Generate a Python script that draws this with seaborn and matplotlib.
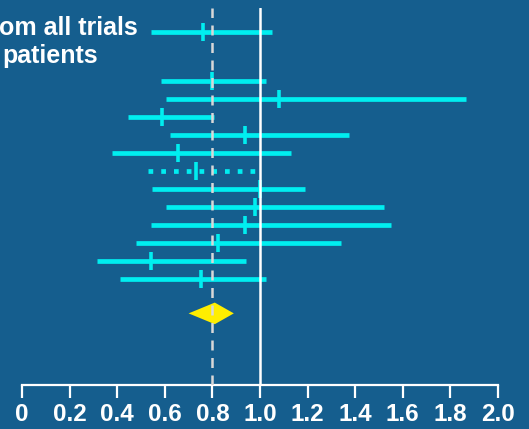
import numpy as np
import pandas as pd
import matplotlib
matplotlib.use("Agg")
import matplotlib.pyplot as plt
import seaborn as sns

# --- datos (razon de riesgo e IC95%) ---
studies = ["All trials", "T1", "T2", "T3", "T4", "T5", "T6", "T7",
           "T8", "T9", "T10", "T11", "T12"]
estimate = [0.76, 0.80, 1.08, 0.59, 0.935, 0.655, 0.73, 1.00,
            0.98, 0.935, 0.825, 0.54, 0.75]
ci_low = [0.54, 0.585, 0.605, 0.445, 0.62, 0.38, 0.53, 0.545,
          0.605, 0.54, 0.48, 0.315, 0.41]
ci_high = [1.05, 1.025, 1.865, 0.805, 1.375, 1.13, 0.99, 1.19,
           1.52, 1.55, 1.34, 0.94, 1.025]
dotted = [False, False, False, False, False, False, True, False,
          False, False, False, False, False]
pooled_est, pooled_low, pooled_high = 0.81, 0.70, 0.89

xticks = [0, 0.2, 0.4, 0.6, 0.8, 1.0, 1.2, 1.4, 1.6, 1.8, 2.0]
xticklabels = ["0", "0.2", "0.4", "0.6", "0.8", "1.0", "1.2", "1.4", "1.6", "1.8", "2.0"]

BG = "#155e8e"
CYAN = "#00eef0"
YELLOW = "#ffee00"

# posicion vertical de cada fila (layout)
row_pos = [0] + [2.72 + i for i in range(12)]
pooled_pos = 15.65

df = pd.DataFrame({"study": studies, "estimate": estimate, "low": ci_low,
                   "high": ci_high, "dotted": dotted, "row": row_pos})

sns.set_theme(style="white")
plt.rcParams['font.family'] = ['Liberation Sans', 'DejaVu Sans']

fig = plt.figure(figsize=(5.29, 4.29), dpi=100, facecolor=BG)
ax = fig.add_axes([22 / 529, 44 / 429, 476 / 529, 377 / 429], facecolor=BG)

# --- intervalos de confianza ---
solid = df[~df["dotted"]]
dots = df[df["dotted"]]
ax.hlines(solid["row"], solid["low"], solid["high"], color=CYAN,
          linewidth=3.4, capstyle="butt", zorder=2)
for _, r in dots.iterrows():
    ax.plot([r["low"], r["high"]], [r["row"], r["row"]], color=CYAN,
            linewidth=3.4, linestyle=(0, (1, 1.7)), dash_capstyle="butt", zorder=2)

# --- estimaciones puntuales ---
sns.scatterplot(data=df, x="estimate", y="row", marker="|", s=150,
                color=CYAN, linewidth=2.6, ax=ax, zorder=3, legend=False)

# --- estimacion combinada (rombo) ---
h = 0.6
ax.fill([pooled_low, pooled_est, pooled_high, pooled_est],
        [pooled_pos, pooled_pos - h, pooled_pos, pooled_pos + h],
        color=YELLOW, linewidth=0, zorder=3)

# --- lineas de referencia ---
ax.axvline(1.0, color="white", linewidth=1.8, zorder=4)
ax.axvline(pooled_est - 0.01, color="#d8d8d8", linewidth=1.8,
           linestyle=(0, (4, 3)), zorder=4)

ax.set_xlim(0, 2)
ax.set_ylim(19.63, -1.32)
ax.set_xticks(xticks)
ax.set_xticklabels(xticklabels, fontsize=17.5, fontweight="bold", color="white")
ax.set_yticks([])
ax.set_xlabel("")
ax.set_ylabel("")
for s in ["top", "right", "left"]:
    ax.spines[s].set_visible(False)
ax.spines["bottom"].set_color("white")
ax.spines["bottom"].set_linewidth(1.6)
ax.tick_params(axis="x", direction="out", length=9, width=1.6, color="white",
               pad=4, bottom=True)

# texto visible en la esquina (recortado en el original)
fig.text(138 / 529, 1 - 35 / 429, "om all trials", ha="right", va="baseline",
         fontsize=18, fontweight="bold", color="white")
fig.text(98 / 529, 1 - 63 / 429, "patients", ha="right", va="baseline",
         fontsize=18, fontweight="bold", color="white")

plt.savefig("out.png", dpi=100, facecolor=BG)
